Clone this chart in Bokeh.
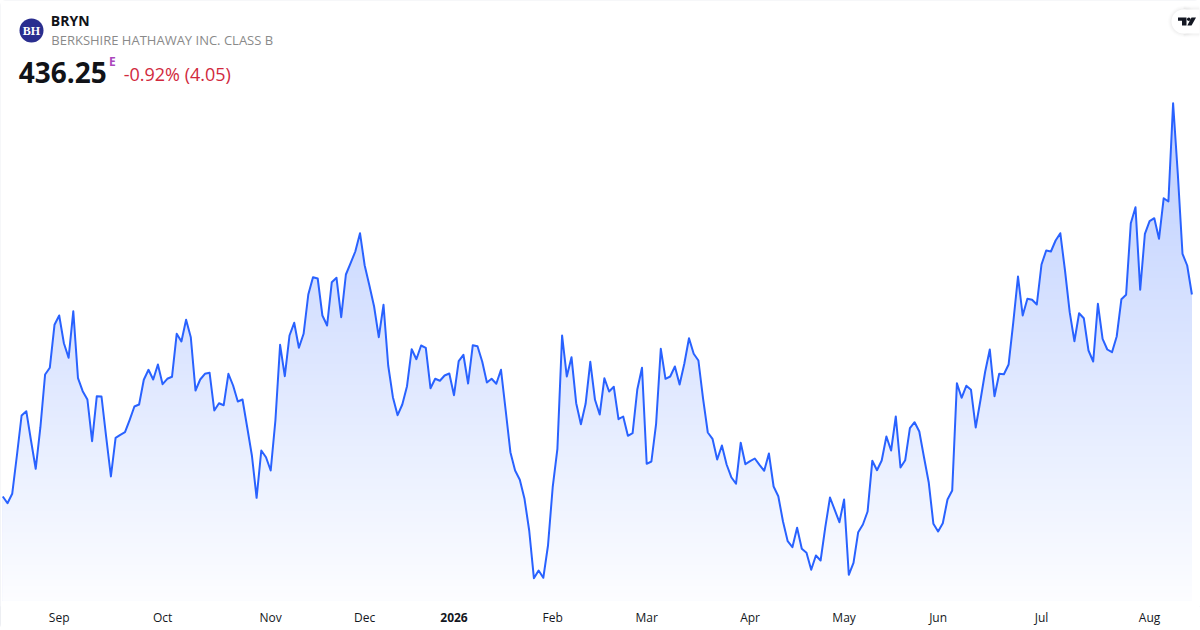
from bokeh.plotting import figure
from bokeh.models import LinearAxis, Range1d, FixedTicker
from bokeh.core.properties import value
from bokeh.embed import file_html
from bokeh.resources import INLINE
import numpy as np

prices = [407.97,407.03,408.35,413.71,419.31,419.91,415.81,411.85,417.67,425.05,425.99,432.01,433.31,429.43,427.39,433.91,
424.53,422.71,421.55,415.71,422.01,421.97,416.27,410.77,416.19,416.61,416.97,418.71,420.57,420.85,424.31,425.71,424.35,
426.45,423.69,424.45,424.73,430.75,429.67,432.71,430.27,422.81,424.35,425.15,425.29,420.01,421.03,420.75,425.15,423.51,
421.27,421.55,417.67,413.71,407.79,414.41,413.47,411.61,418.61,429.21,424.81,430.51,432.29,428.79,430.75,436.25,438.67,
438.49,433.31,431.91,437.97,438.59,433.07,439.05,440.63,442.27,444.83,440.31,437.51,434.57,430.27,434.81,426.31,421.87,
419.35,420.85,423.41,428.59,427.19,429.11,428.79,423.13,424.45,424.17,424.91,425.19,422.15,426.91,427.81,423.79,429.15,
429.01,426.87,423.93,424.45,423.75,425.71,420.01,414.17,411.61,410.31,407.65,403.21,396.53,397.61,396.59,401.11,409.27,
414.65,430.51,424.77,427.47,421.03,418.09,420.95,426.83,421.51,419.45,424.53,422.67,423.33,418.79,419.17,416.47,416.83,
422.95,425.99,412.55,412.87,418.15,428.65,424.45,424.77,426.17,423.65,426.55,430.13,427.95,427.01,421.65,416.93,416.05,
413.15,415.11,412.45,410.67,409.75,415.49,412.49,412.91,413.29,412.41,411.57,413.99,409.37,408.01,404.47,401.71,400.87,
403.59,400.65,400.09,397.71,399.71,399.01,403.67,407.83,406.11,404.37,407.55,397.01,398.69,402.97,404.05,405.87,412.97,
411.65,413.01,416.37,414.41,419.17,412.03,413.05,417.53,418.37,417.07,413.47,409.97,404.15,403.07,404.23,407.55,408.81,
423.83,421.79,423.47,422.91,417.63,421.41,425.40,428.55,422.01,425.15,425.09,426.45,432.37,438.77,433.31,435.65,435.51,
434.85,440.45,442.41,442.27,443.81,444.83,439.61,433.77,429.71,433.63,432.93,428.41,426.87,434.95,430.05,428.55,428.17,
430.37,435.59,436.21,446.23,448.47,436.91,444.75,446.51,446.93,444.05,449.73,449.27,463.03,453.15,441.95,440.31,436.25]
month_ticks = [12, 34, 57, 77, 117, 137, 159, 179, 199, 221, 244]
month_labels = ["Sep", "Oct", "Nov", "Dec", "Feb", "Mar", "Apr", "May", "Jun", "Jul", "Aug"]
year_tick = 96
year_label = "2026"
symbol = "BRYN"
name = "BERKSHIRE HATHAWAY INC. CLASS B"
last_price = "436.25"
change = "-0.92% (4.05)"

W, H, AXIS_H = 1200, 630, 24
STEP = 4.70
X0 = 2.3
Y_TOP = 477.41
PER_PX = 0.14

idx = np.arange(len(prices))
vals = np.array(prices)
x_range = Range1d(-X0 / STEP, (W - X0) / STEP)
y_range = Range1d(Y_TOP - PER_PX * (H - AXIS_H), Y_TOP)

def dx(px):
    return (px - X0) / STEP
def dy(py):
    return Y_TOP - PER_PX * py

p = figure(width=W, height=H, output_backend="svg", toolbar_location=None,
           x_range=x_range, y_range=y_range, min_border=0, min_border_bottom=AXIS_H,
           min_border_left=0, min_border_right=0, min_border_top=0,
           background_fill_color="white", border_fill_color="white", outline_line_color=None)
p.styles = {"position": "absolute", "left": "0px", "top": "0px",
            "outline": "1px solid #e6e8ee", "outline-offset": "-1px", "border-radius": "6px"}
p.yaxis.visible = False
p.grid.visible = False

def style_axis(ax, ticks, labels, font_style, standoff):
    ax.ticker = FixedTicker(ticks=ticks)
    ax.major_label_overrides = dict(zip(ticks, labels))
    ax.axis_line_color = None
    ax.major_tick_line_color = None
    ax.minor_tick_line_color = None
    ax.major_tick_in = 0
    ax.major_tick_out = 0
    ax.major_label_text_font = "Open Sans"
    ax.major_label_text_font_size = "12px"
    ax.major_label_text_font_style = font_style
    ax.major_label_text_color = "#131722"
    ax.major_label_standoff = standoff

style_axis(p.xaxis[0], month_ticks, month_labels, "normal", 2)
year_axis = LinearAxis()
style_axis(year_axis, [year_tick], [year_label], "bold", -16)
p.add_layout(year_axis, "below")

# gradient under the line: opaque bands, then a white mask above the line
n = 140
levels = np.linspace(dy(600), dy(102), n)
for i in range(n - 1, -1, -1):
    a = 0.012 + 0.30 * i / (n - 1)
    r = int(round(255 - (255 - 41) * a)); g = int(round(255 - (255 - 98) * a))
    p.quad(left=0, right=len(prices) - 1, bottom=dy(600), top=levels[i],
           fill_color=f"#{r:02x}{g:02x}ff", line_color=None)
mask_x = np.concatenate(([x_range.start], idx, [x_range.end]))
mask_y = np.concatenate(([vals[0]], vals, [vals[-1]]))
p.varea(x=mask_x, y1=mask_y, y2=np.full(len(mask_y), Y_TOP), fill_color="white")
p.line(idx, vals, line_color="#2962FF", line_width=2, line_join="round")

def txt(text, px, py, size, color, style="normal", font="Open Sans", align="left"):
    p.text([dx(px)], [dy(py)], text=[text], text_font=value(font), text_font_size=size,
           text_color=color, text_font_style=style, text_align=align, text_baseline="alphabetic")

# logo
p.scatter([dx(31)], [dy(30)], size=24, marker="circle", fill_color="#2a2e8f", line_color=None)
txt("BH", 31, 30.5, "12px", "white", "bold", "Liberation Serif", "center")

txt(symbol, 50.3, 20, "14px", "#111318", "bold")
txt(name, 50.8, 39.5, "13px", "#8a8a8a")
txt(last_price, 18.2, 71.5, "28px", "#111318", "bold")
txt("E", 108.5, 61, "12px", "#ab47bc", "bold")
txt(change, 123.2, 73, "18px", "#d1293d")

# TradingView badge
for grow, alpha in [(4, 0.008), (3, 0.012), (2, 0.016), (1, 0.02)]:
    p.scatter([dx(1183)], [dy(21)], size=24 + 2 * grow, marker="circle", fill_color="black",
              fill_alpha=alpha, line_color=None)
    p.quad(left=dx(1183), right=dx(1199), top=dy(9 - grow), bottom=dy(33 + grow),
           fill_color="black", fill_alpha=alpha, line_color=None)
p.scatter([dx(1183)], [dy(21)], size=24, marker="circle", fill_color="white", line_color=None)
p.quad(left=dx(1183), right=dx(1199), top=dy(9), bottom=dy(33), fill_color="white", line_color=None)
p.patches(xs=[[dx(v) for v in s] for s in ([1177.5, 1186, 1186, 1181.5, 1181.5, 1177.5],
                                           [1191, 1195.5, 1191, 1186.8])],
          ys=[[dy(v) for v in s] for s in ([17, 17, 25, 25, 20.3, 20.3],
                                           [17, 17, 25, 25])],
          fill_color="#131722", line_color=None)
p.scatter([dx(1188.3)], [dy(18.8)], size=3.6, marker="circle", fill_color="#131722", line_color=None)

open("out.html", "w").write(file_html(p, INLINE))
